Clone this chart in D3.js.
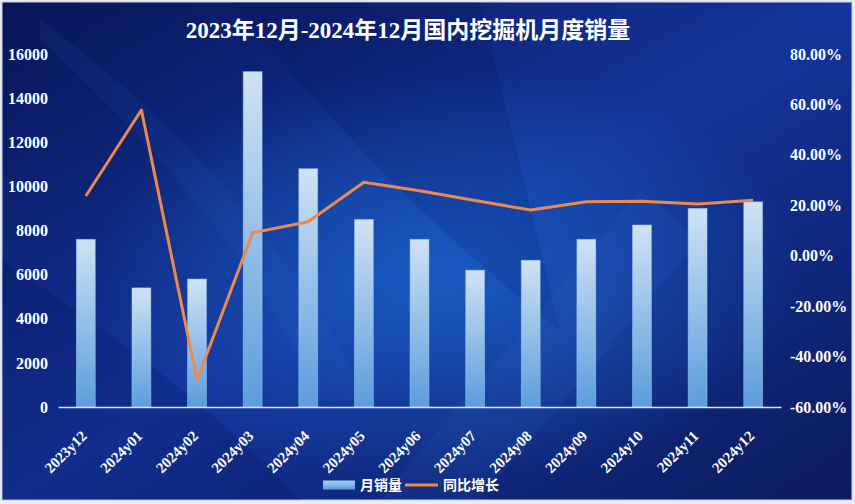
<!DOCTYPE html>
<html>
<head>
<meta charset="utf-8">
<script src="https://cdn.jsdelivr.net/npm/d3@7"></script>
<style>
  html, body { margin: 0; padding: 0; background: #e9ecf3; }
  svg { display: block; }
  text { font-family: "Liberation Serif", "DejaVu Serif", "Noto Sans CJK SC", serif; }
</style>
</head>
<body>
<div id="chart"></div>
<script>
// Данные
const months = ['2023y12', '2024y01', '2024y02', '2024y03', '2024y04', '2024y05', '2024y06',
    '2024y07', '2024y08', '2024y09', '2024y10', '2024y11', '2024y12'];
const sales = [7600, 5400, 5800, 15200, 10800, 8500, 7600, 6200, 6650, 7600, 8250, 9000, 9300];
const growth = [23.7, 57.8, -49.3, 9.1, 13.5, 29.1, 25.8, 21.9, 18.1, 21.4, 21.6, 20.5, 22.0];
const leftTicks = [0, 2000, 4000, 6000, 8000, 10000, 12000, 14000, 16000];
const rightTicks = [-60, -40, -20, 0, 20, 40, 60, 80];
const title = '2023年12月-2024年12月国内挖掘机月度销量';

const width = 855, height = 504;
const plot = { left: 58, right: 781, top: 54, bottom: 407 };

const svg = d3.select('#chart').append('svg')
    .attr('width', width)
    .attr('height', height);

const defs = svg.append('defs');

// Фон
const bg = defs.append('linearGradient').attr('id', 'bg')
    .attr('x1', 0).attr('y1', 0).attr('x2', 1).attr('y2', 1);
bg.append('stop').attr('offset', '0%').attr('stop-color', '#081558');
bg.append('stop').attr('offset', '50%').attr('stop-color', '#14349a');
bg.append('stop').attr('offset', '100%').attr('stop-color', '#0b1a5c');

const glow = defs.append('radialGradient').attr('id', 'glow')
    .attr('cx', 0.52).attr('cy', 0.55).attr('r', 0.42);
glow.append('stop').attr('offset', '0%').attr('stop-color', '#1a64cc').attr('stop-opacity', 0.8);
glow.append('stop').attr('offset', '100%').attr('stop-color', '#1a64cc').attr('stop-opacity', 0);

const barGrad = defs.append('linearGradient').attr('id', 'barGrad')
    .attr('x1', 0).attr('y1', 0).attr('x2', 0).attr('y2', 1);
barGrad.append('stop').attr('offset', '0%').attr('stop-color', '#cfe2f4');
barGrad.append('stop').attr('offset', '100%').attr('stop-color', '#5b9ddd');

const legGrad = defs.append('linearGradient').attr('id', 'legGrad')
    .attr('x1', 0).attr('y1', 0).attr('x2', 0).attr('y2', 1);
legGrad.append('stop').attr('offset', '0%').attr('stop-color', '#a9d0f2');
legGrad.append('stop').attr('offset', '100%').attr('stop-color', '#5b9ddd');

svg.append('rect')
    .attr('x', 2).attr('y', 2)
    .attr('width', width - 5).attr('height', height - 6)
    .attr('fill', 'url(#bg)')
    .attr('stroke', '#c9cfdc')
    .attr('stroke-width', 1);

svg.append('rect')
    .attr('x', 2).attr('y', 2)
    .attr('width', width - 5).attr('height', height - 6)
    .attr('fill', 'url(#glow)');

// Декоративные полосы
const deco = svg.append('g');
deco.append('path')
    .attr('d', 'M230,2 C330,120 430,230 560,330 L480,2 Z')
    .attr('fill', '#000a40').attr('opacity', 0.12);
deco.append('path')
    .attr('d', 'M2,260 C120,340 230,420 300,500 L2,500 Z')
    .attr('fill', '#000a40').attr('opacity', 0.15);
deco.append('path')
    .attr('d', 'M380,500 L640,190 L700,240 L480,500 Z')
    .attr('fill', '#4f8ef0').attr('opacity', 0.07);
deco.append('path')
    .attr('d', 'M40,40 C150,140 250,250 320,400 L370,400 C290,250 190,130 40,20 Z')
    .attr('fill', '#3f7be0').attr('opacity', 0.07);

// Шкалы
const x = d3.scaleBand()
    .domain(months)
    .range([plot.left, plot.right])
    .paddingInner(0.66)
    .paddingOuter(0.33);

const yLeft = d3.scaleLinear()
    .domain([0, 16000])
    .range([plot.bottom, plot.top]);

const yRight = d3.scaleLinear()
    .domain([-60, 80])
    .range([plot.bottom, plot.top]);

// Столбцы
svg.append('g')
    .selectAll('rect')
    .data(sales)
    .enter().append('rect')
    .attr('x', (d, i) => x(months[i]))
    .attr('y', d => yLeft(d))
    .attr('width', x.bandwidth())
    .attr('height', d => yLeft(0) - yLeft(d))
    .attr('fill', 'url(#barGrad)')
    .attr('stroke', '#9cc6ee')
    .attr('stroke-opacity', 0.6)
    .attr('stroke-width', 0.8);

// Ось X
const xAxis = svg.append('g')
    .attr('transform', `translate(0,${yLeft(0)})`)
    .call(d3.axisBottom(x).tickSize(0));
xAxis.select('.domain').attr('stroke', '#dfe6f2').attr('stroke-width', 1.5);
xAxis.selectAll('text')
    .attr('fill', '#ffffff')
    .attr('font-size', '15px')
    .attr('font-weight', 'bold')
    .attr('text-anchor', 'end')
    .attr('x', 0)
    .attr('y', 0)
    .attr('dy', 0)
    .attr('transform', 'translate(2,30) rotate(-45)');

// Левая ось
const leftAxis = svg.append('g')
    .attr('transform', `translate(${plot.left - 10},0)`)
    .call(d3.axisLeft(yLeft).tickValues(leftTicks).tickSize(0).tickPadding(0).tickFormat(d3.format('d')));
leftAxis.select('.domain').remove();
leftAxis.selectAll('text')
    .attr('fill', '#ffffff')
    .attr('font-size', '16px')
    .attr('font-weight', 'bold');

// Правая ось
const rightAxis = svg.append('g')
    .attr('transform', `translate(${plot.right + 9},0)`)
    .call(d3.axisRight(yRight).tickValues(rightTicks).tickSize(0).tickPadding(0)
        .tickFormat(d => d.toFixed(2) + '%'));
rightAxis.select('.domain').remove();
rightAxis.selectAll('text')
    .attr('fill', '#ffffff')
    .attr('font-size', '16px')
    .attr('font-weight', 'bold');

// Линия роста
const line = d3.line()
    .x((d, i) => x(months[i]) + x.bandwidth() / 2)
    .y(d => yRight(d));

svg.append('path')
    .datum(growth)
    .attr('d', line)
    .attr('fill', 'none')
    .attr('stroke', '#ec8a4e')
    .attr('stroke-width', 3)
    .attr('stroke-linejoin', 'round');

// Заголовок
svg.append('text')
    .attr('x', 408)
    .attr('y', 38)
    .attr('text-anchor', 'middle')
    .attr('fill', '#ffffff')
    .attr('font-size', '23px')
    .attr('font-weight', 'bold')
    .text(title);

// Легенда
const legend = svg.append('g').attr('transform', 'translate(0,485)');
legend.append('rect')
    .attr('x', 323).attr('y', -4.5)
    .attr('width', 32).attr('height', 9)
    .attr('fill', 'url(#legGrad)');
legend.append('text')
    .attr('x', 360).attr('y', 5)
    .attr('fill', '#ffffff')
    .attr('font-size', '14px')
    .attr('font-weight', 'bold')
    .text('月销量');
legend.append('line')
    .attr('x1', 405).attr('x2', 438)
    .attr('y1', 0).attr('y2', 0)
    .attr('stroke', '#ec8a4e')
    .attr('stroke-width', 3);
legend.append('text')
    .attr('x', 443).attr('y', 5)
    .attr('fill', '#ffffff')
    .attr('font-size', '14px')
    .attr('font-weight', 'bold')
    .text('同比增长');
</script>
</body>
</html>
